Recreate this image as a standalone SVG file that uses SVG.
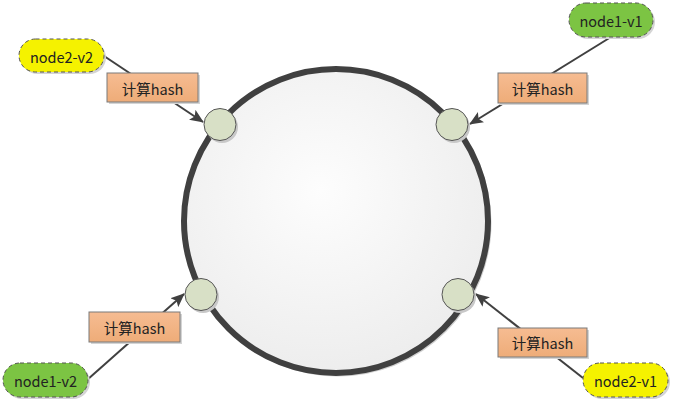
<svg xmlns="http://www.w3.org/2000/svg" width="674" height="403" viewBox="0 0 674 403">
<defs>
<radialGradient id="ringFill" cx="0.45" cy="0.4" r="0.65">
<stop offset="0" stop-color="#fdfdfd"/>
<stop offset="1" stop-color="#ececec"/>
</radialGradient>
<linearGradient id="boxFill" x1="0" y1="0" x2="0" y2="1">
<stop offset="0" stop-color="#f6bc92"/>
<stop offset="1" stop-color="#eeac78"/>
</linearGradient>
<marker id="arr" viewBox="0 0 14 12" refX="13" refY="6" markerWidth="14" markerHeight="12" markerUnits="userSpaceOnUse" orient="auto">
<path d="M0,0 L14,6 L0,12 L3,6 z" fill="#404040"/>
</marker>
</defs>
<style>
.ring{fill:url(#ringFill);stroke:#404040;stroke-width:6}
.ringsh{fill:none;stroke:#d0d0d0;stroke-width:3}
.pt{fill:#d8e0c6;stroke:#555;stroke-width:1}
.ptsh{fill:#c8c8c8}
.box{fill:url(#boxFill);stroke:#7a7a7a;stroke-width:1}
.sh{fill:#d4d4d4}
.pill{stroke:#555;stroke-width:1;stroke-dasharray:4 3}
.y{fill:#f5f200}
.g{fill:#7cc443}
.conn{stroke:#404040;stroke-width:2;fill:none;marker-end:url(#arr)}
text{font-family:"Microsoft YaHei","Noto Sans CJK SC","Liberation Sans",sans-serif;font-size:14.5px;fill:#222;text-anchor:middle;dominant-baseline:central}
</style>
<g id="ring">
<circle class="ringsh" cx="338" cy="223" r="152"/>
<circle class="ring" cx="336" cy="221" r="152"/>
</g>
<g id="connectors">
<line class="conn" x1="104" y1="56" x2="203" y2="122"/>
<line class="conn" x1="611" y1="37" x2="470" y2="124"/>
<line class="conn" x1="87" y1="380" x2="184" y2="294"/>
<line class="conn" x1="583" y1="378" x2="476" y2="294"/>
</g>
<g id="p1"><circle class="ptsh" cx="222" cy="127" r="16"/><circle class="pt" cx="220" cy="124.5" r="16"/></g>
<g id="p2"><circle class="ptsh" cx="454" cy="127" r="16"/><circle class="pt" cx="452" cy="124.5" r="16"/></g>
<g id="p3"><circle class="ptsh" cx="203" cy="297" r="16"/><circle class="pt" cx="201" cy="294.5" r="16"/></g>
<g id="p4"><circle class="ptsh" cx="460" cy="297" r="16"/><circle class="pt" cx="458" cy="294.5" r="16"/></g>
<g id="h1"><rect class="sh" x="109" y="75" width="91" height="29"/><rect class="box" x="107" y="73" width="91" height="29"/><text x="152.5" y="88">计算hash</text></g>
<g id="h2"><rect class="sh" x="500" y="75" width="89" height="30"/><rect class="box" x="498" y="73" width="89" height="30"/><text x="542.5" y="88.5">计算hash</text></g>
<g id="h3"><rect class="sh" x="91" y="314" width="91" height="30"/><rect class="box" x="89" y="312" width="91" height="30"/><text x="134.5" y="327.5">计算hash</text></g>
<g id="h4"><rect class="sh" x="500" y="330" width="89" height="29"/><rect class="box" x="498" y="328" width="89" height="29"/><text x="542.5" y="342.5">计算hash</text></g>
<g id="node2-v2"><rect class="sh" x="21" y="41" width="85" height="33" rx="16.5"/><rect class="pill y" x="19" y="39" width="85" height="33" rx="16.5"/><text x="61.5" y="56">node2-v2</text></g>
<g id="node1-v1"><rect class="sh" x="571" y="5" width="84" height="34" rx="17"/><rect class="pill g" x="569" y="3" width="84" height="34" rx="17"/><text x="611" y="20">node1-v1</text></g>
<g id="node1-v2"><rect class="sh" x="5" y="365" width="85" height="34" rx="17"/><rect class="pill g" x="3" y="363" width="85" height="34" rx="17"/><text x="45.5" y="380">node1-v2</text></g>
<g id="node2-v1"><rect class="sh" x="585" y="365" width="85" height="34" rx="17"/><rect class="pill y" x="583" y="363" width="85" height="34" rx="17"/><text x="625.5" y="380">node2-v1</text></g>
</svg>
